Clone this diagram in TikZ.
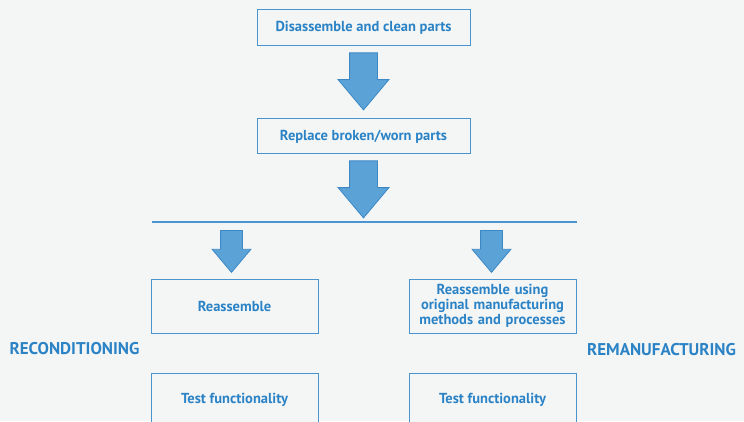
\documentclass[tikz,border=0pt]{standalone}
\usepackage{fontspec}
\setmainfont{PT Sans}
\usepackage{tikz}
\usetikzlibrary{shapes,positioning,calc}
\usepackage{xcolor}
\definecolor{rmbg}{RGB}{244,246,246}
\definecolor{rmblue}{RGB}{43,131,198}
\definecolor{rmline}{RGB}{74,148,207}
\definecolor{rmarrow}{RGB}{91,163,215}
\definecolor{rmarrowdraw}{RGB}{60,136,198}
\tikzstyle{process} = [rectangle, minimum width=213pt, minimum height=36pt, text centered, draw=rmline, fill=rmbg, line width=1pt, text=rmblue, font=\bfseries\fontsize{14.5}{15}\selectfont]
\tikzstyle{bigarrow} = [single arrow, draw=rmarrowdraw, fill=rmarrow, line width=0.8pt, rotate=-90, anchor=tail, inner sep=13.5pt, minimum width=50pt, minimum height=57pt, single arrow head extend=11.5pt, single arrow tip angle=80]
\tikzstyle{smallarrow} = [bigarrow, inner sep=10.5pt, minimum width=38pt, single arrow head extend=8.5pt, minimum height=42pt]
\tikzstyle{sidelabel} = [text=rmblue, font=\bfseries\fontsize{17}{19}\selectfont]

\begin{document}
\begin{tikzpicture}[x=1pt, y=1pt, node distance=72pt]
\fill[rmbg] (0,0) rectangle (744,421);
\clip (0,0) rectangle (744,421);
% top steps
\node (step1) [process] at (363.5,393) {Disassemble and clean parts};
\node (step2) [process, below=of step1, minimum height=35pt] {Replace broken/worn parts};
% splitting line
\coordinate (lineL) at (152,199);
\coordinate (lineR) at (577,199);
\draw[rmline, line width=1.2pt] (lineL) -- (lineR);
% two routes
\node (recon1) [process, minimum width=167pt, minimum height=54pt] at (234.5,115) {Reassemble};
\node (reman1) [process, minimum width=167pt, minimum height=54pt, text width=160pt, align=center] at (492.5,115) {Reassemble using\\ original manufacturing\\ methods and processes};
\node (recon2) [process, minimum width=167pt, minimum height=54pt, below=39pt of recon1] {Test functionality};
\node (reman2) [process, minimum width=167pt, minimum height=54pt, below=39pt of reman1] {Test functionality};
% arrows
\node (arr1) [bigarrow] at ($(step1.south)+(0,-6)$) {};
\node (arr2) [bigarrow] at ($(step2.south)+(0,-6)$) {};
\node (arr3) [smallarrow] at ($(lineL -| recon1.north)+(-3,-8)$) {};
\node (arr4) [smallarrow] at ($(lineL -| reman1.north)+(-1,-8)$) {};
% route labels
\node (reconlbl) [sidelabel] at (74.5,72) {RECONDITIONING};
\node (remanlbl) [sidelabel] at (661.5,71) {REMANUFACTURING};
\end{tikzpicture}
\end{document}
